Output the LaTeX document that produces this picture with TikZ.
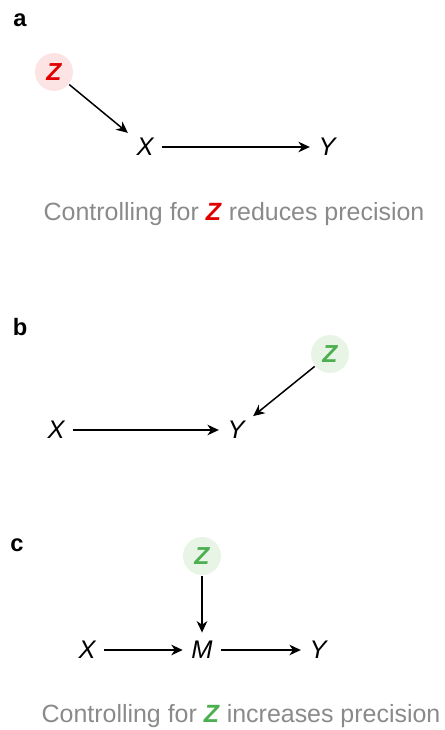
\documentclass[tikz,border=0pt]{standalone}
\usepackage{fontspec}
\setmainfont{Liberation Sans}
\usetikzlibrary{arrows.meta}
\definecolor{zred}{HTML}{E00000}
\definecolor{zredbg}{HTML}{FCE4E4}
\definecolor{zgreen}{HTML}{4CAF50}
\definecolor{zgreenbg}{HTML}{E8F4E6}
\definecolor{captiongray}{HTML}{8A8A8A}
\begin{document}
\begin{tikzpicture}[x=0.02cm,y=-0.02cm,>={Stealth[length=6.5pt,width=6pt,inset=2pt]},line width=0.85pt,
  var/.style={font=\fontsize{14.5}{16}\selectfont\itshape,inner sep=4.5pt},
  zred/.style={circle,fill=zredbg,minimum size=0.76cm,inner sep=0pt,
    text=zred,font=\fontsize{14}{16}\selectfont\bfseries\itshape},
  zgreen/.style={zred,fill=zgreenbg,text=zgreen},
  panel/.style={font=\fontsize{13.5}{15}\selectfont\bfseries},
  caption/.style={text=captiongray,font=\fontsize{14.2}{16}\selectfont}]
  \useasboundingbox (0,0) rectangle (444,730);

  % panel a
  \node[panel] (la) at (20,20) {a};
  \node[zred] (Za) at (54,72) {Z};
  \node[var] (Xa) at (145,147) {X};
  \node[var] (Ya) at (327,147) {Y};
  \draw[->] (Za) -- (Xa);
  \draw[->] (Xa) -- (Ya);
  \node[caption] (capa) at (234,214) {Controlling for \textcolor{zred}{\textbf{\textit{Z}}} reduces precision};

  % panel b
  \node[panel] (lb) at (20,327) {b};
  \node[zgreen] (Zb) at (330,354) {Z};
  \node[var] (Xb) at (56,430) {X};
  \node[var] (Yb) at (236,430) {Y};
  \draw[->] (Zb) -- (Yb);
  \draw[->] (Xb) -- (Yb);

  % panel c
  \node[panel] (lc) at (17,545) {c};
  \node[zgreen] (Zc) at (202,556) {Z};
  \node[var] (Xc) at (87,650) {X};
  \node[var] (Mc) at (202,650) {M};
  \node[var] (Yc) at (318,650) {Y};
  \draw[->] (Zc) -- (Mc);
  \draw[->] (Xc) -- (Mc);
  \draw[->] (Mc) -- (Yc);
  \node[caption] (capc) at (241,716) {Controlling for \textcolor{zgreen}{\textbf{\textit{Z}}} increases precision};
\end{tikzpicture}
\end{document}
